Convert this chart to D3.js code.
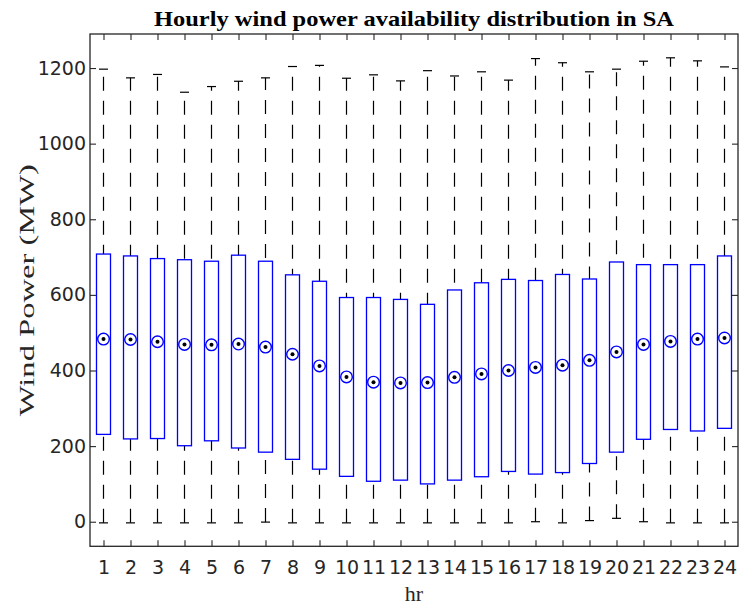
<!DOCTYPE html>
<html>
<head>
<meta charset="utf-8">
<script src="https://cdn.jsdelivr.net/npm/d3@7"></script>
<style>
  html, body { margin: 0; padding: 0; background: #fff; }
  svg { display: block; }
</style>
</head>
<body>
<svg id="chart" width="740" height="606"></svg>
<script>
// ---- data ----
const hours = [1,2,3,4,5,6,7,8,9,10,11,12,13,14,15,16,17,18,19,20,21,22,23,24];
const upperWhisker = [1197,1174,1183,1136,1151,1165,1174,1204,1207,1173,1182,1166,1193,1179,1190,1168,1225,1214,1190,1197,1218,1227,1219,1203];
const q3 =           [708,703,696,693,689,705,689,653,636,593,593,588,575,613,632,641,638,654,642,687,680,680,680,703];
const medians =      [483,482,476,469,468,470,462,443,412,383,369,367,368,382,391,400,408,414,427,449,469,477,483,486];
const q1 =           [231,219,220,201,214,195,184,165,139,120,107,110,100,110,119,133,126,130,154,184,218,244,240,247];
const lowerWhisker = [-3,-3,-3,-3,-3,-3,-1,-3,-3,-3,-3,-3,-3,-3,-3,-3,0,-3,3,9,0,-3,-3,-3];
const yTicks = [0,200,400,600,800,1000,1200];
const title = "Hourly wind power availability distribution in SA";
const xLabel = "hr";
const yLabel = "Wind Power (MW)";

const data = hours.map((h, i) => ({
  h, hi: upperWhisker[i], q3: q3[i], med: medians[i], q1: q1[i], lo: lowerWhisker[i]
}));

// ---- layout ----
const L = 90, R = 738, T = 34, B = 546.3;
const svg = d3.select("#chart");
const ink = "#262626";

const x = d3.scaleLinear().domain([0.5, 24.5]).range([L, R]);
const y = d3.scaleLinear().domain([-65, 1290]).range([B, T]);

const boxHalf = 7, capHalf = 4.5;

// whiskers (dashed, drawn from lower adjacent to upper adjacent)
const g = svg.append("g");
g.selectAll("line.whisk").data(data).join("line")
  .attr("class", "whisk")
  .attr("x1", d => x(d.h)).attr("x2", d => x(d.h))
  .attr("y1", d => y(d.lo)).attr("y2", d => y(d.hi))
  .attr("stroke", "#000").attr("stroke-width", 1.2)
  .attr("stroke-dasharray", "14,10");
// caps
g.selectAll("line.capHi").data(data).join("line")
  .attr("x1", d => x(d.h) - capHalf).attr("x2", d => x(d.h) + capHalf)
  .attr("y1", d => y(d.hi)).attr("y2", d => y(d.hi))
  .attr("stroke", "#000").attr("stroke-width", 1.2);
g.selectAll("line.capLo").data(data).join("line")
  .attr("x1", d => x(d.h) - capHalf).attr("x2", d => x(d.h) + capHalf)
  .attr("y1", d => y(d.lo)).attr("y2", d => y(d.lo))
  .attr("stroke", "#000").attr("stroke-width", 1.2);
// boxes
g.selectAll("rect.box").data(data).join("rect")
  .attr("x", d => x(d.h) - boxHalf).attr("width", boxHalf * 2)
  .attr("y", d => y(d.q3)).attr("height", d => y(d.q1) - y(d.q3))
  .attr("fill", "#fff").attr("stroke", "#0000ff").attr("stroke-width", 1.3);
// median targets
g.selectAll("circle.ring").data(data).join("circle")
  .attr("cx", d => x(d.h)).attr("cy", d => y(d.med)).attr("r", 5.8)
  .attr("fill", "#fff").attr("stroke", "#0000ff").attr("stroke-width", 1.4);
g.selectAll("circle.dot").data(data).join("circle")
  .attr("cx", d => x(d.h)).attr("cy", d => y(d.med)).attr("r", 2)
  .attr("fill", "#000");

// ---- axes ----
const font = "'DejaVu Sans', sans-serif";
const tickLen = 6;
const axL = svg.append("g").attr("transform", `translate(${L},0)`)
  .call(d3.axisLeft(y).tickValues(yTicks).tickFormat(d3.format("d")).tickSizeInner(-tickLen).tickSizeOuter(0).tickPadding(4));
const axB = svg.append("g").attr("transform", `translate(0,${B})`)
  .call(d3.axisBottom(x).tickValues(hours).tickFormat(d3.format("d")).tickSizeInner(-tickLen).tickSizeOuter(0).tickPadding(14));
const axT = svg.append("g").attr("transform", `translate(0,${T})`)
  .call(d3.axisTop(x).tickValues(hours).tickFormat("").tickSizeInner(-tickLen).tickSizeOuter(0));
const axR = svg.append("g").attr("transform", `translate(${R},0)`)
  .call(d3.axisRight(y).tickValues(yTicks).tickFormat("").tickSizeInner(-tickLen).tickSizeOuter(0));
[axL, axB, axT, axR].forEach(a => {
  a.select(".domain").remove();
  a.selectAll(".tick line").attr("stroke", ink).attr("stroke-width", 1.1);
  a.selectAll(".tick text").attr("fill", ink).style("font-family", font).style("font-size", "19px");
});
svg.append("rect").attr("x", L).attr("y", T).attr("width", R - L).attr("height", B - T)
  .attr("fill", "none").attr("stroke", ink).attr("stroke-width", 1.3);

// ---- labels ----
svg.append("text").attr("x", (L + R) / 2).attr("y", 26).attr("text-anchor", "middle")
  .style("font-family", "'Liberation Serif', serif").style("font-weight", "bold").style("font-size", "22px")
  .attr("fill", "#000").text(title)
  .attr("textLength", 520).attr("lengthAdjust", "spacingAndGlyphs");
svg.append("text").attr("x", (L + R) / 2).attr("y", 601).attr("text-anchor", "middle")
  .style("font-family", "'Liberation Serif', serif").style("font-size", "22px")
  .attr("fill", ink).text(xLabel);
svg.append("text").attr("transform", `translate(34,${(T + B) / 2}) rotate(-90)`).attr("text-anchor", "middle")
  .style("font-family", "'Liberation Serif', serif").style("font-size", "21px")
  .attr("fill", ink).text(yLabel)
  .attr("textLength", 252).attr("lengthAdjust", "spacingAndGlyphs");
</script>
</body>
</html>
